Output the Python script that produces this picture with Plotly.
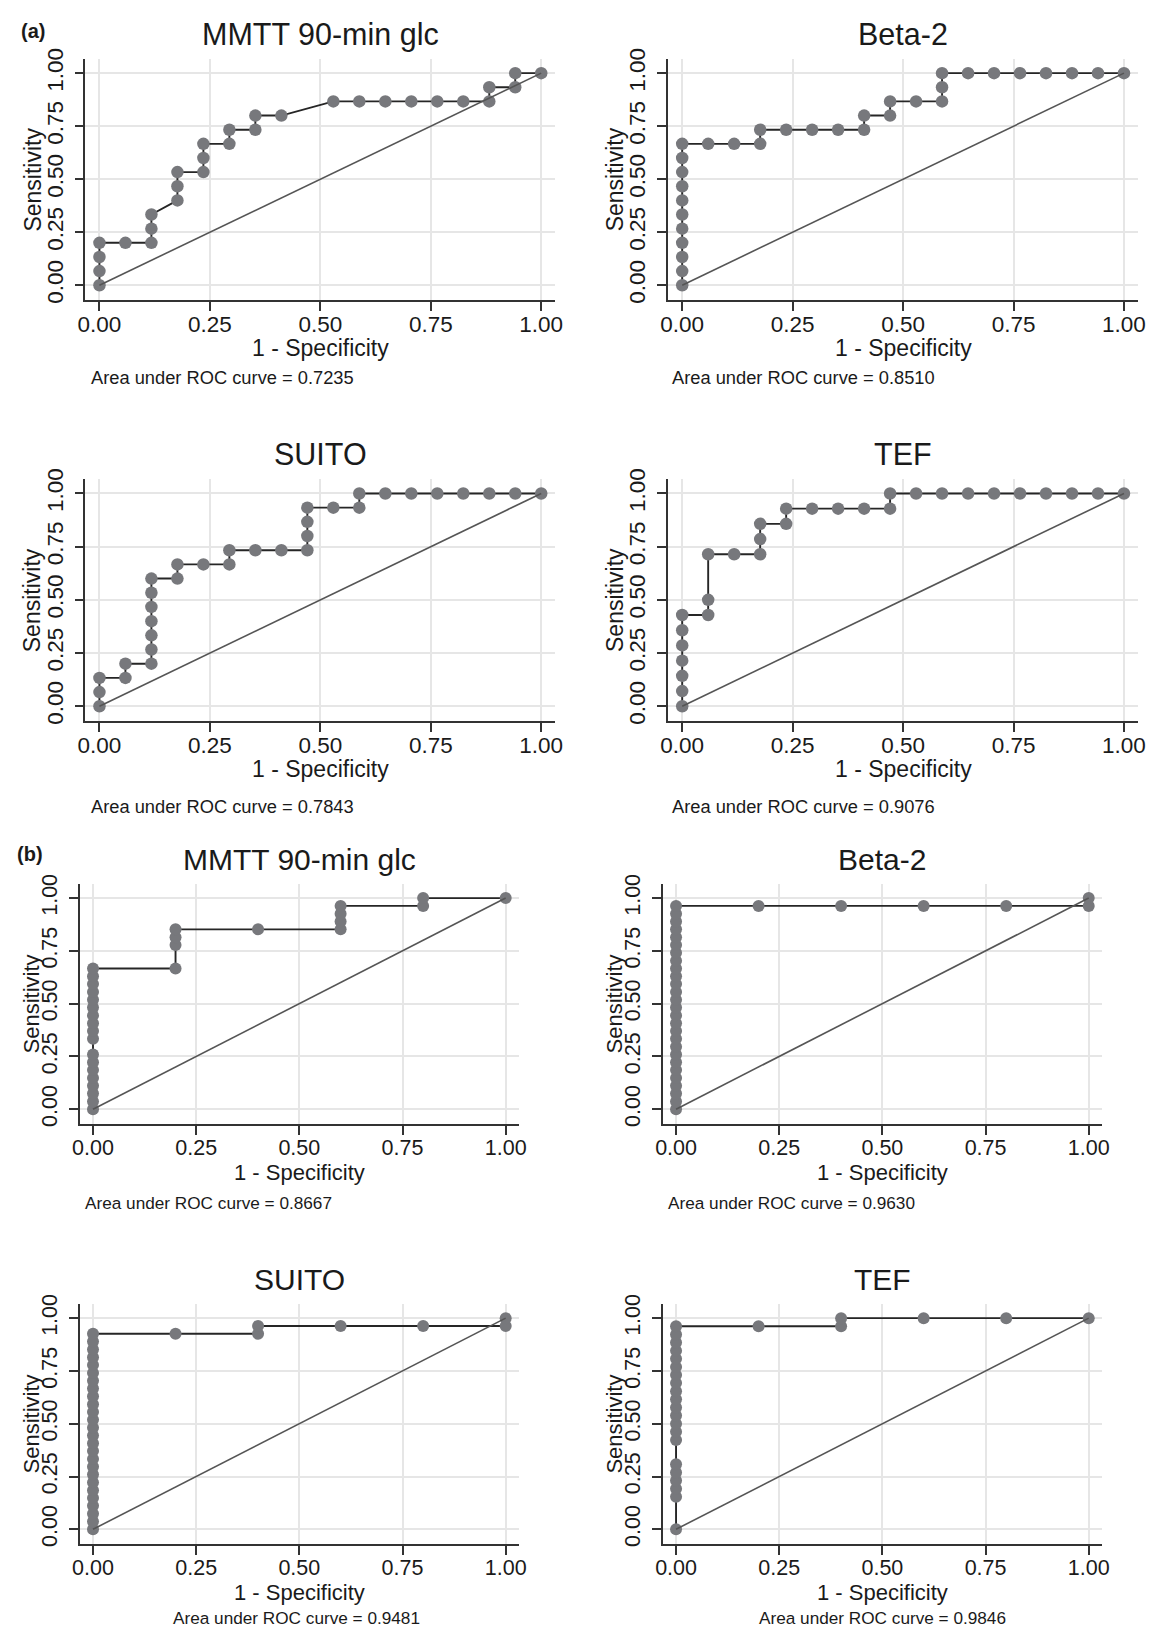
import plotly.graph_objects as go

# page is 1162 x 1638; the browser's default 8px body margin is taken into account
PAGE_W, PAGE_H = 1162, 1638
OX, OY = 8, 8
W, H = PAGE_W - 2 * OX, PAGE_H - 2 * OY

# ---------------- data: (1 - specificity, sensitivity) ----------------
# Panel (a)
a_mmtt_fpr = [0, 0, 0, 0, 0.0588, 0.1176, 0.1176, 0.1176, 0.1765, 0.1765, 0.1765,
              0.2353, 0.2353, 0.2353, 0.2941, 0.2941, 0.3529, 0.3529, 0.4118, 0.5294,
              0.5882, 0.6471, 0.7059, 0.7647, 0.8235, 0.8824, 0.8824, 0.9412, 0.9412, 1]
a_mmtt_sens = [0, 0.0667, 0.1333, 0.2, 0.2, 0.2, 0.2667, 0.3333, 0.4, 0.4667, 0.5333,
               0.5333, 0.6, 0.6667, 0.6667, 0.7333, 0.7333, 0.8, 0.8, 0.8667,
               0.8667, 0.8667, 0.8667, 0.8667, 0.8667, 0.8667, 0.9333, 0.9333, 1, 1]

a_beta_fpr = [0, 0, 0, 0, 0, 0, 0, 0, 0, 0, 0,
              0.0588, 0.1176, 0.1765, 0.1765, 0.2353, 0.2941, 0.3529, 0.4118, 0.4118,
              0.4706, 0.4706, 0.5294, 0.5882, 0.5882, 0.5882, 0.6471, 0.7059, 0.7647,
              0.8235, 0.8824, 0.9412, 1]
a_beta_sens = [0, 0.0667, 0.1333, 0.2, 0.2667, 0.3333, 0.4, 0.4667, 0.5333, 0.6, 0.6667,
               0.6667, 0.6667, 0.6667, 0.7333, 0.7333, 0.7333, 0.7333, 0.7333, 0.8,
               0.8, 0.8667, 0.8667, 0.8667, 0.9333, 1, 1, 1, 1,
               1, 1, 1, 1]

a_suito_fpr = [0, 0, 0, 0.0588, 0.0588, 0.1176, 0.1176, 0.1176, 0.1176, 0.1176, 0.1176, 0.1176,
               0.1765, 0.1765, 0.2353, 0.2941, 0.2941, 0.3529, 0.4118, 0.4706, 0.4706, 0.4706,
               0.4706, 0.5294, 0.5882, 0.5882, 0.6471, 0.7059, 0.7647, 0.8235, 0.8824, 0.9412, 1]
a_suito_sens = [0, 0.0667, 0.1333, 0.1333, 0.2, 0.2, 0.2667, 0.3333, 0.4, 0.4667, 0.5333, 0.6,
                0.6, 0.6667, 0.6667, 0.6667, 0.7333, 0.7333, 0.7333, 0.7333, 0.8, 0.8667,
                0.9333, 0.9333, 0.9333, 1, 1, 1, 1, 1, 1, 1, 1]

a_tef_fpr = [0, 0, 0, 0, 0, 0, 0,
             0.0588, 0.0588, 0.0588, 0.1176, 0.1765, 0.1765, 0.1765, 0.2353, 0.2353,
             0.2941, 0.3529, 0.4118, 0.4706, 0.4706, 0.5294, 0.5882, 0.6471, 0.7059,
             0.7647, 0.8235, 0.8824, 0.9412, 1]
a_tef_sens = [0, 0.0714, 0.1429, 0.2143, 0.2857, 0.3571, 0.4286,
              0.4286, 0.5, 0.7143, 0.7143, 0.7143, 0.7857, 0.8571, 0.8571, 0.9286,
              0.9286, 0.9286, 0.9286, 0.9286, 1, 1, 1, 1, 1,
              1, 1, 1, 1, 1]

# Panel (b)
b_mmtt_fpr = [0, 0, 0, 0, 0, 0, 0, 0, 0, 0, 0, 0, 0, 0, 0, 0, 0, 0,
              0.2, 0.2, 0.2, 0.2, 0.4, 0.6, 0.6, 0.6, 0.6, 0.8, 0.8, 1]
b_mmtt_sens = [0, 0.0370, 0.0741, 0.1111, 0.1481, 0.1852, 0.2222, 0.2593,
               0.3333, 0.3704, 0.4074, 0.4444, 0.4815, 0.5185, 0.5556, 0.5926, 0.6296, 0.6667,
               0.6667, 0.7778, 0.8148, 0.8519, 0.8519, 0.8519, 0.8889, 0.9259, 0.9630,
               0.9630, 1, 1]

b_beta_fpr = [0, 0, 0, 0, 0, 0, 0, 0, 0, 0, 0, 0, 0, 0, 0, 0, 0, 0, 0, 0, 0, 0, 0, 0, 0, 0, 0,
              0.2, 0.4, 0.6, 0.8, 1, 1]
b_beta_sens = [0, 0.0370, 0.0741, 0.1111, 0.1481, 0.1852, 0.2222, 0.2593, 0.2963, 0.3333,
               0.3704, 0.4074, 0.4444, 0.4815, 0.5185, 0.5556, 0.5926, 0.6296, 0.6667,
               0.7037, 0.7407, 0.7778, 0.8148, 0.8519, 0.8889, 0.9259, 0.9630,
               0.9630, 0.9630, 0.9630, 0.9630, 0.9630, 1]

b_suito_fpr = [0, 0, 0, 0, 0, 0, 0, 0, 0, 0, 0, 0, 0, 0, 0, 0, 0, 0, 0, 0, 0, 0, 0, 0, 0, 0,
               0.2, 0.4, 0.4, 0.6, 0.8, 1, 1]
b_suito_sens = [0, 0.0370, 0.0741, 0.1111, 0.1481, 0.1852, 0.2222, 0.2593, 0.2963, 0.3333,
                0.3704, 0.4074, 0.4444, 0.4815, 0.5185, 0.5556, 0.5926, 0.6296, 0.6667,
                0.7037, 0.7407, 0.7778, 0.8148, 0.8519, 0.8889, 0.9259,
                0.9259, 0.9259, 0.9630, 0.9630, 0.9630, 0.9630, 1]

b_tef_fpr = [0, 0, 0, 0, 0, 0, 0, 0, 0, 0, 0, 0, 0, 0, 0, 0, 0, 0, 0, 0, 0,
             0.2, 0.4, 0.4, 0.6, 0.8, 1]
b_tef_sens = [0, 0.1538, 0.1923, 0.2308, 0.2692, 0.3077, 0.4231, 0.4615, 0.5, 0.5385,
              0.5769, 0.6154, 0.6538, 0.6923, 0.7308, 0.7692, 0.8077, 0.8462, 0.8846,
              0.9231, 0.9615,
              0.9615, 0.9615, 1, 1, 1, 1]

titles = ["MMTT 90-min glc", "Beta-2", "SUITO", "TEF",
          "MMTT 90-min glc", "Beta-2", "SUITO", "TEF"]
auc_labels = ["0.7235", "0.8510", "0.7843", "0.9076",
              "0.8667", "0.9630", "0.9481", "0.9846"]
tick_vals = [0, 0.25, 0.5, 0.75, 1]
tick_text = ["0.00", "0.25", "0.50", "0.75", "1.00"]

curves = [(a_mmtt_fpr, a_mmtt_sens), (a_beta_fpr, a_beta_sens),
          (a_suito_fpr, a_suito_sens), (a_tef_fpr, a_tef_sens),
          (b_mmtt_fpr, b_mmtt_sens), (b_beta_fpr, b_beta_sens),
          (b_suito_fpr, b_suito_sens), (b_tef_fpr, b_tef_sens)]

# ---------------- layout geometry (page pixels) ----------------
# (left, right, top, bottom) of each plot area
boxes = [
    (78.3, 555.0, 48.3, 291.7),
    (669.3, 1146.0, 48.3, 291.7),
    (78.3, 555.0, 472.5, 716.7),
    (669.3, 1146.0, 472.5, 716.7),
    (72.7, 518.0, 881.0, 1123.3),
    (664.0, 1109.3, 881.0, 1123.3),
    (72.7, 518.0, 1305.0, 1547.3),
    (664.0, 1109.3, 1305.0, 1547.3),
]
# AUC text placement: (x, y, xanchor, yanchor)
auc_pos = [
    (82.7, 370, "left", "middle"), (672.7, 370, "left", "middle"),
    (82.7, 802.5, "left", "middle"), (672.7, 802.5, "left", "middle"),
    (77.3, 1203.5, "left", "middle"), (668.0, 1203.5, "left", "middle"),
    (292.0, 1633.5, "center", "bottom"), (887.0, 1633.5, "center", "bottom"),
]

FONT = "Liberation Sans, Arial, Helvetica, sans-serif"
TXT = "#1a1a1a"
AXC = "#333333"
GRID = "#e6e6e6"
MARK = "#77787c"


def px(xp):
    return (xp - OX) / W


def py(yp):
    return 1 - (yp - OY) / H


fig = go.Figure()
layout = dict(width=W, height=H, margin=dict(l=0, r=0, t=0, b=0, pad=0),
              paper_bgcolor="white", plot_bgcolor="white", showlegend=False,
              autosize=False, font=dict(family=FONT, color=TXT))
annotations = []

for i, ((fx, sy), (l, r, t, b), title, auc) in enumerate(zip(curves, boxes, titles, auc_labels)):
    k = i + 1
    sfx = "" if k == 1 else str(k)
    big = i < 4
    tfs = 22.5 if big else 21.5
    fig.add_trace(go.Scatter(
        x=fx, y=sy, mode="lines+markers", xaxis="x" + sfx, yaxis="y" + sfx,
        line=dict(color="#262626", width=1.9),
        marker=dict(color=MARK, size=12.5 if big else 12),
        cliponaxis=False, hoverinfo="skip"))
    fig.add_trace(go.Scatter(
        x=[0, 1], y=[0, 1], mode="lines", xaxis="x" + sfx, yaxis="y" + sfx,
        line=dict(color="#555555", width=1.6), hoverinfo="skip"))
    common = dict(tickvals=tick_vals, ticktext=tick_text, ticks="outside", ticklen=9,
                  tickwidth=1.5, tickcolor=AXC, showline=True, linecolor=AXC, linewidth=1.6,
                  showgrid=True, gridcolor=GRID, gridwidth=2, zeroline=False,
                  tickfont=dict(size=tfs, color=TXT, family=FONT), fixedrange=True)
    layout["xaxis" + sfx] = dict(domain=[px(l), px(r)], range=[-0.032, 1.032],
                                 anchor="y" + sfx, ticklabelstandoff=-6, **common)
    layout["yaxis" + sfx] = dict(domain=[py(b), py(t)], range=[-0.07, 1.067],
                                 anchor="x" + sfx, tickangle=-90, ticklabelstandoff=3,
                                 **common)
    cx = (l + r) / 2
    annotations.append(dict(text=title, x=px(cx), y=py(t - 25), xref="paper", yref="paper",
                            xanchor="center", yanchor="middle", showarrow=False,
                            font=dict(size=30.5 if big else 30, color=TXT, family=FONT)))
    annotations.append(dict(text="1 - Specificity", x=px(cx), y=py(b + 48.5), xref="paper",
                            yref="paper", xanchor="center", yanchor="middle", showarrow=False,
                            font=dict(size=23 if big else 22, color=TXT, family=FONT)))
    annotations.append(dict(text="Sensitivity", x=px(l - (54 if big else 49)), y=py((t + b) / 2),
                            xref="paper", yref="paper", xanchor="center", yanchor="middle",
                            textangle=-90, showarrow=False,
                            font=dict(size=23 if big else 22, color=TXT, family=FONT)))
    ax_, ay_, xa, ya = auc_pos[i]
    annotations.append(dict(text="Area under ROC curve = " + auc, x=px(ax_), y=py(ay_),
                            xref="paper", yref="paper", xanchor=xa, yanchor=ya,
                            showarrow=False, borderpad=0,
                            font=dict(size=18.3 if big else 17.2, color=TXT, family=FONT)))

annotations.append(dict(text="<b>(a)</b>", x=px(11), y=py(20), xref="paper", yref="paper",
                        xanchor="left", yanchor="middle", showarrow=False,
                        font=dict(size=20, color=TXT, family=FONT)))
annotations.append(dict(text="<b>(b)</b>", x=px(7), y=py(851), xref="paper", yref="paper",
                        xanchor="left", yanchor="middle", showarrow=False,
                        font=dict(size=20, color=TXT, family=FONT)))
layout["annotations"] = annotations
fig.update_layout(**layout)
fig.write_html("out.html", config={"responsive": False, "displayModeBar": False})
